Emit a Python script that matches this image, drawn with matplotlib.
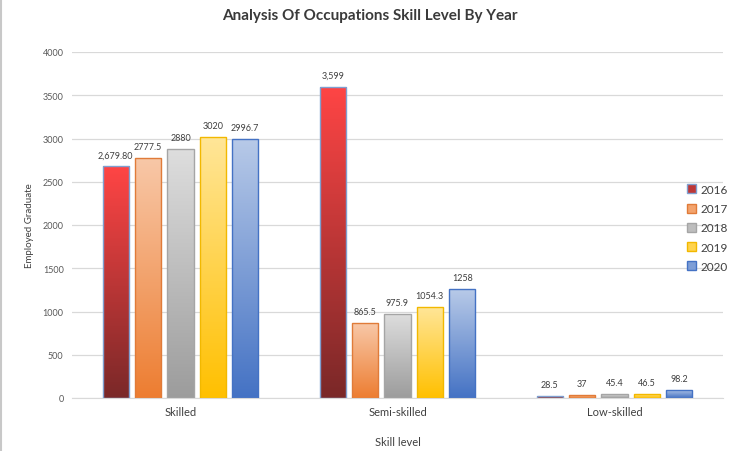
import matplotlib
matplotlib.use("Agg")
import matplotlib.pyplot as plt
import numpy as np
from matplotlib.colors import LinearSegmentedColormap, to_rgb
from matplotlib.patches import Patch, Rectangle
from matplotlib import font_manager

categories = ["Skilled", "Semi-skilled", "Low-skilled"]
years = ["2016", "2017", "2018", "2019", "2020"]
values = {
    "2016": [2679.80, 3599, 28.5],
    "2017": [2777.5, 865.5, 37],
    "2018": [2880, 975.9, 45.4],
    "2019": [3020, 1054.3, 46.5],
    "2020": [2996.7, 1258, 98.2],
}
labels = {
    "2016": ["2,679.80", "3,599", "28.5"],
    "2017": ["2777.5", "865.5", "37"],
    "2018": ["2880", "975.9", "45.4"],
    "2019": ["3020", "1054.3", "46.5"],
    "2020": ["2996.7", "1258", "98.2"],
}
yticks = [0, 500, 1000, 1500, 2000, 2500, 3000, 3500, 4000]

# (top colour, bottom colour, edge colour)
styles = {
    "2016": ("#FF4545", "#7A2828", "#7F9FD0"),
    "2017": ("#F8C8A8", "#ED7D31", "#E07B39"),
    "2018": ("#DEDEDE", "#9C9C9C", "#A5A5A5"),
    "2019": ("#FFE699", "#FFC000", "#F2B800"),
    "2020": ("#B8CAE8", "#4472C4", "#4472C4"),
}

avail = {f.name for f in font_manager.fontManager.ttflist}
title_font = "Liberation Sans Narrow" if "Liberation Sans Narrow" in avail else "Lato"
body_font = "Lato" if "Lato" in avail else "DejaVu Sans"

fig = plt.figure(figsize=(7.39, 4.52), dpi=100)
ax = fig.add_axes([72/739, 1-399/452, 651/739, 346/452])

x = np.arange(len(categories))
width = 0.12
step = 0.149
for i, yr in enumerate(years):
    top, bot, edge = styles[yr]
    cmap = LinearSegmentedColormap.from_list(yr, [bot, top])
    pos = x + (i - 2) * step
    bars = ax.bar(pos, values[yr], width=width, color="none", edgecolor=edge,
                  linewidth=1.0, zorder=3)
    for b, lab in zip(bars, labels[yr]):
        bx, bw, bh = b.get_x(), b.get_width(), b.get_height()
        grad = np.linspace(0, 1, 256).reshape(-1, 1)
        im = ax.imshow(grad, extent=[bx, bx + bw, 0, bh], origin="lower",
                       aspect="auto", cmap=cmap, zorder=2)
        im.set_clip_path(Rectangle((bx, 0), bw, bh, transform=ax.transData))
        ax.annotate(lab, (bx + bw/2, bh), xytext=(0, 5), textcoords="offset points",
                    ha="center", va="bottom", fontsize=6.5, color="#404040",
                    family=body_font)

ax.set_xlim(-0.5, 2.5)
ax.set_ylim(0, 4000)
ax.set_yticks(yticks)
ax.set_yticklabels([str(v) for v in yticks], fontsize=6.5, color="#595959", family=body_font)
ax.set_xticks(x)
ax.set_xticklabels(categories, fontsize=8, color="#404040", family=body_font)
ax.tick_params(axis="both", length=0)
ax.tick_params(axis="y", pad=6)
ax.tick_params(axis="x", pad=6)
ax.grid(axis="y", color="#D9D9D9", linewidth=0.9, zorder=0)
ax.set_axisbelow(True)
for s in ["top", "right", "left"]:
    ax.spines[s].set_visible(False)
ax.spines["bottom"].set_color("#D9D9D9")
ax.set_xlabel("Skill level", fontsize=8, color="#404040", family=body_font)
ax.xaxis.set_label_coords(0.5, (399-437)/346)
ax.set_ylabel("Employed Graduate", fontsize=7, color="#404040", family=body_font)
ax.yaxis.set_label_coords((34-72)/651, 0.5)

fig.text(0.5, 1-16/452, "Analysis Of Occupations Skill Level By Year", ha="center", va="center",
         fontsize=11, fontweight="bold", color="#3A3A3A", family=title_font)

def mix(a, b):
    ra, rb = np.array(to_rgb(a)), np.array(to_rgb(b))
    return tuple((ra + rb) / 2)

handles = [Patch(facecolor=mix(styles[yr][0], styles[yr][1]), edgecolor=styles[yr][2]) for yr in years]
leg = fig.legend(handles, years, loc="center left", bbox_to_anchor=(676/739, 1-229/452),
                 frameon=False, handlelength=0.8, handleheight=0.8,
                 handletextpad=0.4, labelspacing=0.7, prop={"family": body_font, "size": 8.5})
for t in leg.get_texts():
    t.set_color("#404040")

fig.add_artist(plt.Line2D([0.002, 0.002], [0, 1], color="#C8C8C8", lw=1.5, transform=fig.transFigure))

fig.savefig("out.png", dpi=100, facecolor="white")
